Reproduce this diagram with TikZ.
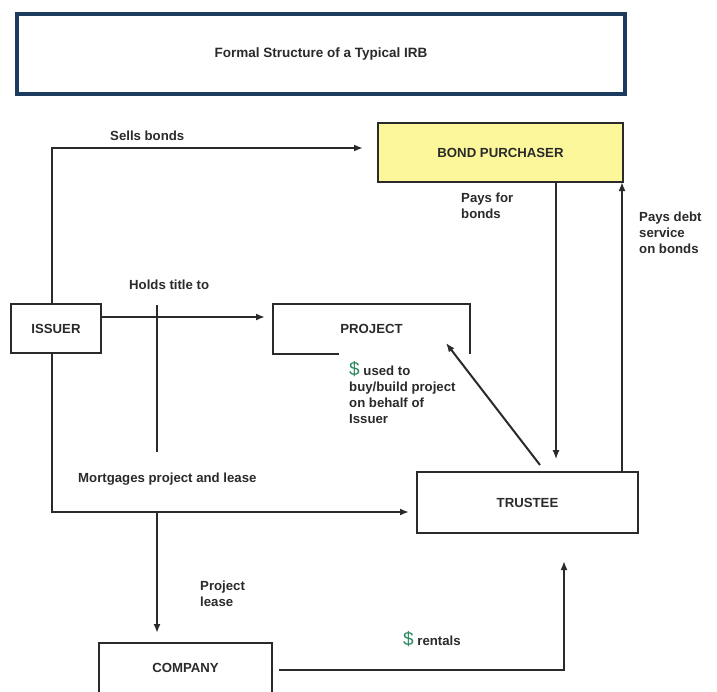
\documentclass[tikz,border=0pt]{standalone}
\usepackage{fontspec}
\setmainfont{Liberation Sans}
\usepackage{xcolor}
\usepackage{tikz}
\usetikzlibrary{arrows.meta,positioning,calc}
\definecolor{ink}{HTML}{2A2A2A}
\definecolor{navy}{HTML}{1D3B5E}
\definecolor{buyer}{HTML}{FBF79A}
\definecolor{cash}{HTML}{2B8A60}
\newcommand{\bigdollar}{{\color{cash}\fontsize{19}{19}\selectfont\mdseries\$}}

\begin{document}
\begin{tikzpicture}[x=1pt,y=-1pt,>={Latex[length=9pt,width=7pt]},
 font=\bfseries\fontsize{13.2}{16}\selectfont,text=ink,
 party/.style={draw=ink,line width=2pt,inner sep=0pt},
 flow/.style={draw=ink,line width=2pt},
 thinflow/.style={draw=ink,line width=1.2pt},
 lbl/.style={anchor=north west,align=left,inner sep=0pt}]
 \clip (0,0) rectangle (717,691);
 \fill[white] (0,0) rectangle (717,691);
 \node[draw=navy,line width=3.5pt,minimum width=608pt,minimum height=80pt,font=\bfseries\fontsize{13.5}{16}\selectfont] (title) at (321,54) {Formal Structure of a Typical IRB};
 \node[party,fill=buyer,minimum width=245pt,minimum height=59pt] (bp) at (500.5,152.5) {BOND PURCHASER};
 \node[party,minimum width=90pt,minimum height=49pt] (issuer) at (56,328.5) {ISSUER};
 \node[inner sep=0pt,minimum width=197pt,minimum height=50pt] (project) at (371.5,329) {PROJECT};
 \node[party,minimum width=221pt,minimum height=61pt] (trustee) at (527.5,502.5) {TRUSTEE};
 \node[party,minimum width=173pt,minimum height=50pt] (company) at (185.5,668) {COMPANY};
 \draw[flow] ($(project.south west)+(66,0)$) -- (project.south west) -- (project.north west) -- (project.north east) -- (project.south east);

 \coordinate (spine) at (52,512);
 \coordinate (sellend) at (363,148);
 \coordinate (mortend) at (409,512);
 \coordinate (holdend) at (265,317);
 \coordinate (mtop) at (157,305);
 \coordinate (mbot) at (157,452);
 \coordinate (leaseend) at (157,633);
 \coordinate (payend) at (556,459);
 \coordinate (debtend) at (622,182);
 \coordinate (fundstart) at (540,465);
 \coordinate (fundend) at (446,343);
 \coordinate (rentstart) at (279,670);
 \coordinate (rentend) at (564,561);

 \draw[flow,->] (spine |- issuer.north) |- (sellend);
 \draw[flow,->] (spine |- issuer.south) -- (spine) -- (mortend);
 \draw[flow,->] (issuer.east |- holdend) -- (holdend);
 \draw[flow] (mtop) -- (mbot);
 \draw[flow,->] (mbot |- spine) -- (leaseend);
 \draw[thinflow,->] (bp.south -| payend) -- (payend);
 \draw[flow,->] (trustee.north -| debtend) -- (debtend);
 \draw[flow,->] (fundstart) -- (fundend);
 \draw[flow,->] (rentstart) -| (rentend);

 \node[anchor=base west,inner sep=0pt] (sells) at (110,140) {Sells bonds};
 \node[anchor=base west,inner sep=0pt] (holds) at (129,289) {Holds title to};
 \node[anchor=base west,inner sep=0pt] (mortg) at (78,482) {Mortgages project and lease};
 \node[lbl] (paysfor) at (461,193) {Pays for\\bonds};
 \node[lbl] (paysdebt) at (639,212) {Pays debt\\service\\on bonds};
 \node[lbl] (funds) at (349,361) {\bigdollar{} used to\\buy/build project\\on behalf of\\Issuer};
 \node[lbl] (lease) at (200,581) {Project\\lease};
 \node[anchor=base west,inner sep=0pt] (rentals) at (403,645) {\bigdollar{} rentals};
\end{tikzpicture}
\end{document}
